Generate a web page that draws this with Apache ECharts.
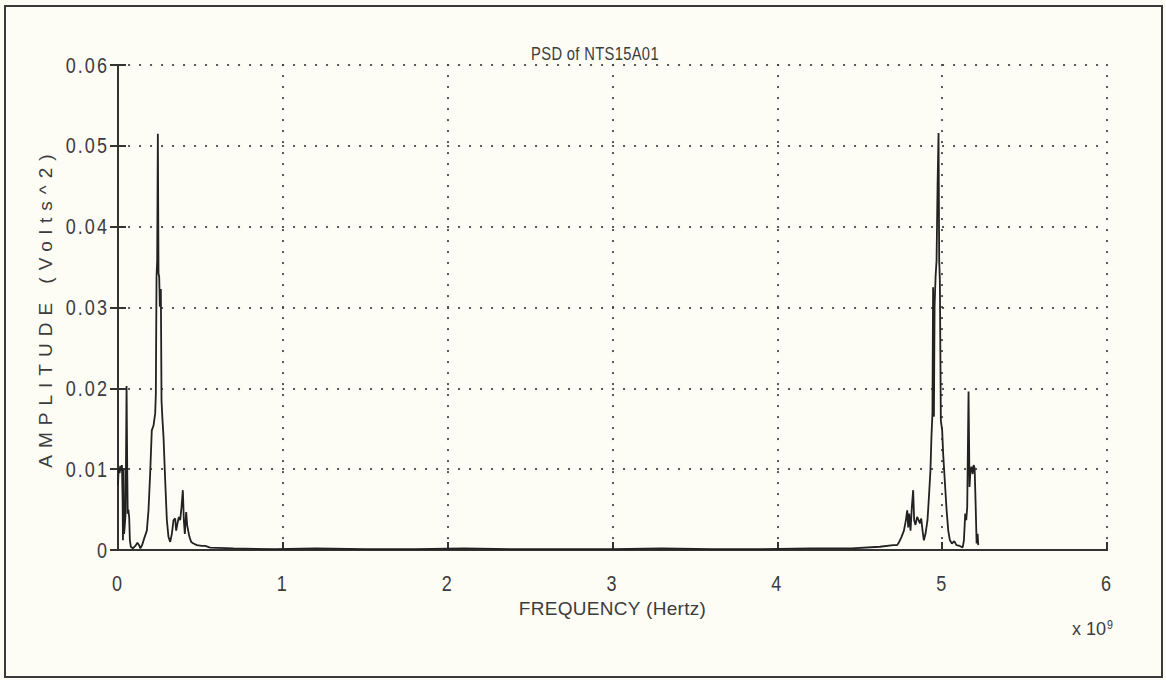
<!DOCTYPE html>
<html>
<head>
<meta charset="utf-8">
<script src="https://cdn.jsdelivr.net/npm/echarts@6/dist/echarts.min.js"></script>
<style>
  html, body { margin: 0; padding: 0; background: #fdfdf6; }
  #chart { width: 1166px; height: 680px; }
</style>
</head>
<body>
<div id="chart"></div>
<script>
// Frequencies are in units of 1e9 Hz (the axis carries the "x 10^9" multiplier).

// Low band: spectrum from DC up to ~0.56
const lowFreq = [0.000,0.004,0.010,0.014,0.020,0.024,0.028,0.030,0.034,0.037,0.041,0.046,0.052,0.056,0.059,0.063,0.068,0.072,0.078,0.090,0.105,0.118,0.128,0.136,0.146,0.160,0.175,0.185,0.195,0.205,0.2155,0.2256,0.2296,0.2337,0.2377,0.2418,0.2458,0.2499,0.2539,0.2600,0.2640,0.2701,0.2761,0.2863,0.2964,0.3064,0.3166,0.3267,0.3368,0.3469,0.3529,0.3610,0.3691,0.3772,0.3853,0.3934,0.3994,0.4055,0.4136,0.4196,0.4257,0.4338,0.4439,0.4580,0.4783,0.5086,0.5288,0.5591];
const lowAmp = [0.0080,0.0102,0.0095,0.0104,0.0098,0.0105,0.0060,0.0012,0.0100,0.0020,0.0030,0.0045,0.0203,0.0100,0.0045,0.0050,0.0040,0.0012,0.0004,0.0002,0.0005,0.0009,0.0006,0.0002,0.0006,0.0015,0.0024,0.0049,0.0094,0.0148,0.0154,0.0169,0.0193,0.0338,0.0358,0.0515,0.0342,0.0338,0.0301,0.0323,0.0185,0.0160,0.0140,0.0086,0.0037,0.0016,0.0010,0.0020,0.0037,0.0039,0.0024,0.0033,0.0041,0.0037,0.0053,0.0074,0.0037,0.0020,0.0047,0.0031,0.0024,0.0016,0.0010,0.0008,0.0006,0.0005,0.0005,0.0003];

// Noise floor between the two bands
const floorFreq = [0.70,0.95,1.20,1.50,1.80,2.10,2.40,2.70,3.00,3.30,3.60,3.90,4.20,4.45];
const floorAmp = [0.0002,0.0001,0.0002,0.0001,0.0001,0.0002,0.0001,0.0001,0.0001,0.0002,0.0001,0.0001,0.0002,0.0002];

// High band: spectrum from ~4.6 to the end of the record
const highFreq = [4.622,4.703,4.727,4.739,4.753,4.768,4.780,4.788,4.794,4.800,4.808,4.816,4.824,4.830,4.838,4.848,4.857,4.865,4.873,4.881,4.889,4.899,4.911,4.921,4.929,4.935,4.941,4.945,4.950,4.954,4.960,4.966,4.972,4.978,4.982,4.986,4.992,5.000,5.006,5.017,5.027,5.037,5.047,5.059,5.073,5.087,5.107,5.124,5.132,5.140,5.146,5.152,5.160,5.166,5.172,5.178,5.185,5.191,5.197,5.203,5.209,5.215,5.219];
const highAmp = [0.0004,0.0006,0.0006,0.0010,0.0016,0.0024,0.0037,0.0049,0.0028,0.0045,0.0024,0.0053,0.0074,0.0037,0.0031,0.0041,0.0037,0.0033,0.0039,0.0024,0.0012,0.0020,0.0037,0.0070,0.0099,0.0140,0.0169,0.0325,0.0165,0.0301,0.0338,0.0358,0.0449,0.0516,0.0358,0.0334,0.0160,0.0148,0.0119,0.0082,0.0049,0.0024,0.0012,0.0008,0.0011,0.0006,0.0005,0.0003,0.0012,0.0045,0.0037,0.0053,0.0196,0.0078,0.0099,0.0103,0.0094,0.0105,0.0101,0.0057,0.0008,0.0020,0.0006];

const titleText = 'PSD of NTS15A01';
const xName = 'FREQUENCY (Hertz)';
const yName = 'AMPLITUDE (Volts^2)';

function pairs(fs, as) { return fs.map((f, i) => [f, as[i]]); }
const psd = [].concat(pairs(lowFreq, lowAmp), pairs(floorFreq, floorAmp), pairs(highFreq, highAmp));

const ink = '#333333';
const textInk = '#3c3c3c';
const font = '"Liberation Sans", Arial, sans-serif';
const dotted = { color: '#3f3f3f', width: 2.2, type: [0.1, 10.9], cap: 'round' };

const chart = echarts.init(document.getElementById('chart'), null, { renderer: 'svg' });

chart.setOption({
  backgroundColor: '#fdfdf6',
  animation: false,
  title: {
    text: titleText,
    left: 590, top: 39, textAlign: 'center',
    textStyle: { fontFamily: font, fontSize: 18, fontWeight: 'normal', color: textInk }
  },
  grid: { left: 118, right: 59, top: 65, bottom: 130, show: false },
  xAxis: [{
    type: 'value', min: 0, max: 6, interval: 1,
    name: xName, nameLocation: 'middle', nameGap: 44,
    nameTextStyle: { fontFamily: font, fontSize: 19, color: textInk },
    axisLine: { show: true, onZero: false, lineStyle: { color: ink, width: 2 } },
    axisTick: { show: true, inside: true, length: 8, lineStyle: { color: ink, width: 2 } },
    axisLabel: { margin: 22, fontFamily: font, fontSize: 22, color: textInk },
    splitLine: { show: true, lineStyle: dotted }
  }, {
    type: 'value', position: 'top', min: 0, max: 6, interval: 1,
    axisLine: { show: true, lineStyle: { color: ink, width: 2 } },
    axisTick: { show: false }, axisLabel: { show: false }, splitLine: { show: false }
  }],
  yAxis: [{
    type: 'value', min: 0, max: 0.06, interval: 0.01,
    name: yName, nameLocation: 'middle', nameGap: 62, nameRotate: 90,
    nameTextStyle: { fontFamily: font, fontSize: 19, color: textInk },
    axisLine: { show: true, onZero: false, lineStyle: { color: ink, width: 2 } },
    axisTick: { show: true, inside: true, length: 8, lineStyle: { color: ink, width: 2 } },
    axisLabel: { margin: 9, fontFamily: font, fontSize: 22, color: textInk },
    splitLine: { show: true, lineStyle: dotted }
  }, {
    type: 'value', position: 'right', min: 0, max: 0.06, interval: 0.01,
    axisLine: { show: true, lineStyle: { color: ink, width: 2 } },
    axisTick: { show: true, inside: true, length: 8, lineStyle: { color: ink, width: 2 } },
    axisLabel: { show: false }, splitLine: { show: false }
  }],
  series: [{
    type: 'line',
    data: psd,
    showSymbol: false,
    lineStyle: { color: '#222222', width: 1.8 },
    silent: true
  }],
  graphic: [
    {
      type: 'rect', silent: true,
      shape: { x: 5, y: 6, width: 1157, height: 671 },
      style: { fill: 'none', stroke: '#3a3a3a', lineWidth: 2 }
    },
    {
      type: 'text', left: 1072, top: 618, silent: true,
      style: {
        text: 'x 10{sup|9}',
        font: '18px "Liberation Sans", Arial, sans-serif',
        fill: textInk,
        rich: { sup: { fontSize: 13, verticalAlign: 'top', padding: [0, 0, 9, 1], fill: textInk } }
      }
    }
  ]
});

// Plotter-style lettering: narrow digits and extra tracking
const tracking = {};
tracking[yName] = 7;
tracking[xName] = 0.3;
tracking[titleText] = 0.4;
const narrow = {};
narrow[titleText] = 0.82;

function condense(t, k) {
  const cur = t.getAttribute('transform') || '';
  if (t.__condensed && cur === t.__condensed) return;
  const x = parseFloat(t.getAttribute('x')) || 0;
  const y = parseFloat(t.getAttribute('y')) || 0;
  const next = (cur ? cur + ' ' : '') +
    'translate(' + x + ' ' + y + ') scale(' + k + ' 1) translate(' + (-x) + ' ' + (-y) + ')';
  t.setAttribute('transform', next);
  t.__condensed = next;
}

function applyLettering() {
  document.querySelectorAll('#chart svg text').forEach(function (t) {
    const s = t.textContent;
    if (/^[0-9.]+$/.test(s)) {
      t.setAttribute('letter-spacing', 2.5);
      condense(t, 0.82);
      return;
    }
    if (tracking[s] != null) t.setAttribute('letter-spacing', tracking[s]);
    if (narrow[s] != null) condense(t, narrow[s]);
  });
}
chart.on('finished', applyLettering);
setTimeout(applyLettering, 0);
requestAnimationFrame(applyLettering);
</script>
</body>
</html>
